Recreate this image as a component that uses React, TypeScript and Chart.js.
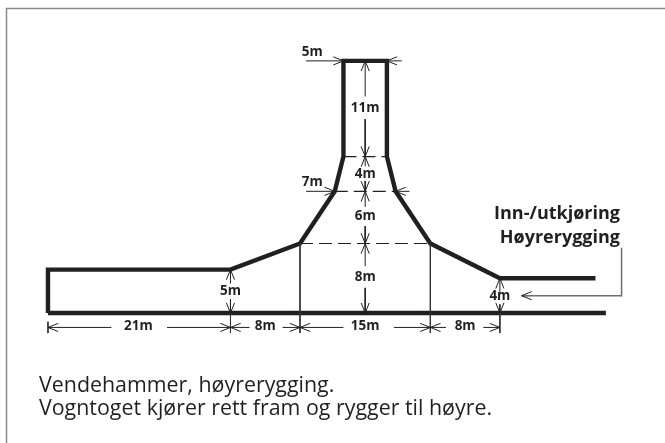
import React, { useEffect, useRef } from "react";
import { Chart, registerables } from "chart.js";

Chart.register(...registerables);

type Pt = { x: number; y: number };

// All geometry in metres: x from the left end wall, y above the base line.
const roadOutline: Pt[] = [
  { x: 0, y: 0 }, { x: 0, y: 5 }, { x: 21, y: 5 }, { x: 29, y: 8 }, { x: 33, y: 14 },
  { x: 34, y: 18 }, { x: 34, y: 29 }, { x: 39, y: 29 }, { x: 39, y: 18 }, { x: 40, y: 14 },
  { x: 44, y: 8 }, { x: 52, y: 4 }, { x: 63, y: 4 },
];
const baseLine: Pt[] = [{ x: 0, y: 0 }, { x: 64.2, y: 0 }];

const dashedLines: Pt[][] = [
  [{ x: 34, y: 18 }, { x: 39, y: 18 }],
  [{ x: 33, y: 14 }, { x: 40, y: 14 }],
  [{ x: 29, y: 8 }, { x: 44, y: 8 }],
];
const thinLines: Pt[][] = [
  [{ x: 29, y: 8 }, { x: 29, y: -2.3 }],
  [{ x: 44, y: 8 }, { x: 44, y: -2.3 }],
  [{ x: 21, y: 0 }, { x: 21, y: -2.3 }],
  [{ x: 52, y: 0 }, { x: 52, y: -2.3 }],
  [{ x: 0, y: -1 }, { x: 0, y: -2.3 }],
];
const leader: Pt[] = [{ x: 66, y: 7.5 }, { x: 66, y: 2 }, { x: 54.5, y: 2 }];

// segments of dimension lines: [start, end], with an open arrow head at "end"
const dimY = -1.65;
const arrowSegments: [Pt, Pt][] = [
  [{ x: 7.3, y: dimY }, { x: 0, y: dimY }],
  [{ x: 13.7, y: dimY }, { x: 21, y: dimY }],
  [{ x: 23.2, y: dimY }, { x: 21, y: dimY }],
  [{ x: 27, y: dimY }, { x: 29, y: dimY }],
  [{ x: 34, y: dimY }, { x: 29, y: dimY }],
  [{ x: 39.8, y: dimY }, { x: 44, y: dimY }],
  [{ x: 45.8, y: dimY }, { x: 44, y: dimY }],
  [{ x: 50.1, y: dimY }, { x: 52, y: dimY }],
  [{ x: 21, y: 3.4 }, { x: 21, y: 5 }],
  [{ x: 21, y: 1.6 }, { x: 21, y: 0 }],
  [{ x: 36.5, y: 5.4 }, { x: 36.5, y: 8 }],
  [{ x: 36.5, y: 2.9 }, { x: 36.5, y: 0 }],
  [{ x: 36.5, y: 12.2 }, { x: 36.5, y: 14 }],
  [{ x: 36.5, y: 10 }, { x: 36.5, y: 8 }],
  [{ x: 36.5, y: 16.9 }, { x: 36.5, y: 18 }],
  [{ x: 36.5, y: 15.2 }, { x: 36.5, y: 14 }],
  [{ x: 36.5, y: 24.9 }, { x: 36.5, y: 29 }],
  [{ x: 36.5, y: 22.3 }, { x: 36.5, y: 18 }],
  [{ x: 29.7, y: 29 }, { x: 34, y: 29 }],
  [{ x: 40.7, y: 29 }, { x: 39, y: 29 }],
  [{ x: 29.7, y: 14 }, { x: 33, y: 14 }],
  [{ x: 41.6, y: 14 }, { x: 40, y: 14 }],
  [{ x: 52, y: 2.3 }, { x: 52, y: 4 }],
  [{ x: 52, y: 1 }, { x: 52, y: 0 }],
  [{ x: 55.6, y: 2 }, { x: 54.5, y: 2 }],
];

const dimLabels: { text: string; x: number; y: number }[] = [
  { text: "21m", x: 10.4, y: -1.5 },
  { text: "8m", x: 25, y: -1.5 },
  { text: "15m", x: 36.5, y: -1.5 },
  { text: "8m", x: 48, y: -1.5 },
  { text: "5m", x: 21, y: 2.55 },
  { text: "4m", x: 52, y: 2 },
  { text: "8m", x: 36.5, y: 4.15 },
  { text: "6m", x: 36.5, y: 11.15 },
  { text: "4m", x: 36.5, y: 16 },
  { text: "11m", x: 36.5, y: 23.6 },
  { text: "5m", x: 30.4, y: 30 },
  { text: "7m", x: 30.4, y: 15 },
];
const noteLines: string[] = ["Inn-/utkjøring", "Høyrerygging"];
const captionLines: string[] = [
  "Vendehammer, høyrerygging.",
  "Vogntoget kjører rett fram og rygger til høyre.",
];

const seg = (data: Pt[], color: string, width: number, dash: number[] = []) => ({
  data,
  borderColor: color,
  borderWidth: width,
  borderDash: dash,
  pointRadius: 0,
  showLine: true,
  fill: false,
  tension: 0,
  borderJoinStyle: "miter" as const,
  borderCapStyle: "butt" as const,
});

const annotations = {
  id: "annotations",
  afterDatasetsDraw(chart: any) {
    const { ctx, scales } = chart;
    const X = (v: number) => scales.x.getPixelForValue(v);
    const Y = (v: number) => scales.y.getPixelForValue(v);
    ctx.save();
    // frame
    ctx.strokeStyle = "#8a8a8a";
    ctx.lineWidth = 1.5;
    ctx.beginPath();
    ctx.moveTo(6.5, 443);
    ctx.lineTo(6.5, 8.5);
    ctx.lineTo(665, 8.5);
    ctx.stroke();
    // arrow heads
    ctx.strokeStyle = "#231f20";
    ctx.lineWidth = 1;
    for (const [a, b] of arrowSegments) {
      const ang = Math.atan2(Y(b.y) - Y(a.y), X(b.x) - X(a.x));
      const px = X(b.x);
      const py = Y(b.y);
      ctx.beginPath();
      ctx.moveTo(px - 11 * Math.cos(ang - 0.38), py - 11 * Math.sin(ang - 0.38));
      ctx.lineTo(px, py);
      ctx.lineTo(px - 11 * Math.cos(ang + 0.38), py - 11 * Math.sin(ang + 0.38));
      ctx.stroke();
    }
    // labels
    ctx.fillStyle = "#231f20";
    ctx.textAlign = "center";
    ctx.textBaseline = "middle";
    ctx.font = "bold 13.5px 'Open Sans'";
    for (const l of dimLabels) ctx.fillText(l.text, X(l.x), Y(l.y));
    ctx.textAlign = "right";
    ctx.font = "bold 18px 'Open Sans'";
    noteLines.forEach((t, i) => ctx.fillText(t, 620, 214 + i * 24));
    ctx.textAlign = "left";
    ctx.textBaseline = "alphabetic";
    ctx.font = "21.4px 'Open Sans'";
    captionLines.forEach((t, i) => ctx.fillText(t, 39, 392 + i * 23));
    ctx.restore();
  },
};

export default function App() {
  const ref = useRef<HTMLCanvasElement>(null);
  useEffect(() => {
    const chart = new Chart(ref.current!, {
      type: "scatter",
      data: {
        datasets: [
          ...thinLines.map((d) => seg(d, "#333333", 1)),
          ...dashedLines.map((d) => seg(d, "#231f20", 1.2, [13, 6])),
          seg(leader, "#6d6e71", 1.5),
          ...arrowSegments.map(([a, b]) => seg([a, b], "#231f20", 1)),
          seg(roadOutline, "#231f20", 4.4),
          seg(baseLine, "#231f20", 4.4),
        ],
      },
      options: {
        animation: false,
        responsive: false,
        layout: { padding: 0 },
        plugins: { legend: { display: false }, tooltip: { enabled: false } },
        scales: {
          x: { type: "linear", display: false, min: -5.52, max: 71 },
          y: { type: "linear", display: false, min: -14.94, max: 36 },
        },
      },
      plugins: [annotations],
    });
    return () => chart.destroy();
  }, []);
  return (
    <canvas
      ref={ref}
      width={665}
      height={443}
      style={{ position: "fixed", left: 0, top: 0, width: 665, height: 443, background: "#fff" }}
    />
  );
}
